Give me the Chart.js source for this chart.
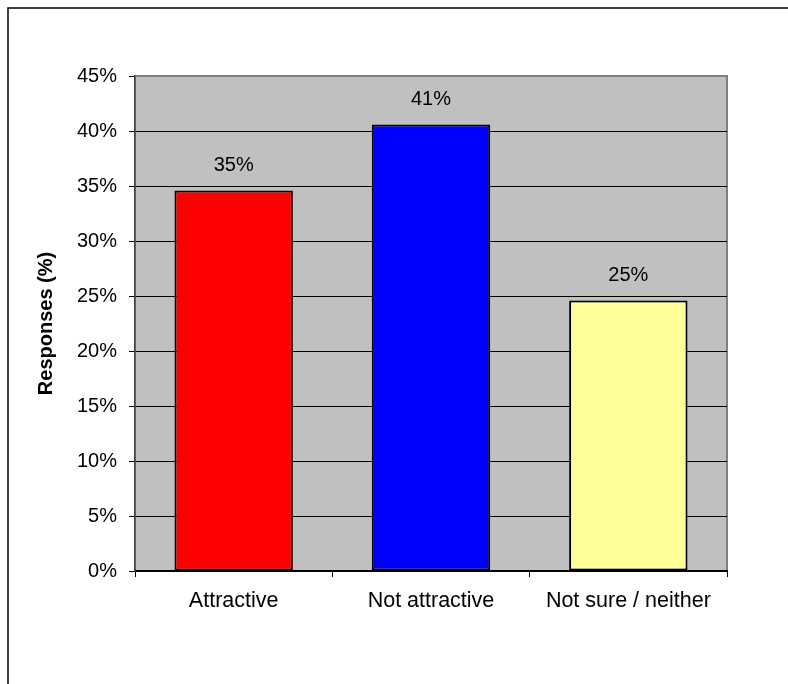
<!DOCTYPE html>
<html>
<head>
<meta charset="utf-8">
<script src="https://cdn.jsdelivr.net/npm/chart.js@4/dist/chart.umd.min.js"></script>
<style>
    html, body {
        margin: 0;
        padding: 0;
        background: #ffffff;
    }

    #wrap {
        width: 788px;
        height: 684px;
    }
</style>
</head>
<body>

<div id="wrap">
    <canvas id="responseChart" width="788" height="684"></canvas>
</div>

<script>

const categories = [
    "Attractive",
    "Not attractive",
    "Not sure / neither"
];

const responses = [34.6, 40.6, 24.6];

const barColors = [
    "#ff0000",
    "#0000ff",
    "#ffff99"
];

const yTicks = [0, 5, 10, 15, 20, 25, 30, 35, 40, 45];

const FONT = "'Liberation Sans', Arial, sans-serif";

// grey plot background, its frame and the outer box line
const plotBackground = {

    id: "plotBackground",

    beforeDraw(chart) {

        const ctx = chart.ctx;
        const area = chart.chartArea;

        ctx.save();

        ctx.strokeStyle = "#000000";
        ctx.lineWidth = 1.5;
        ctx.strokeRect(8, 8, 820, 720);

        ctx.fillStyle = "#c0c0c0";
        ctx.fillRect(
            area.left,
            area.top,
            area.right - area.left,
            area.bottom - area.top
        );

        ctx.strokeStyle = "#808080";
        ctx.lineWidth = 2;
        ctx.strokeRect(
            area.left,
            area.top,
            area.right - area.left,
            area.bottom - area.top
        );

        ctx.restore();

    }

};

// percentage written above each bar
const barLabels = {

    id: "barLabels",

    afterDatasetsDraw(chart) {

        const ctx = chart.ctx;
        const meta = chart.getDatasetMeta(0);

        ctx.save();
        ctx.font = "20px " + FONT;
        ctx.fillStyle = "#000000";
        ctx.textAlign = "center";
        ctx.textBaseline = "alphabetic";

        meta.data.forEach((bar, i) => {

            ctx.fillText(
                Math.round(responses[i]) + "%",
                bar.x,
                bar.y - 19
            );

        });

        ctx.restore();

    }

};

new Chart(document.getElementById("responseChart"), {

    type: "bar",

    data: {

        labels: categories,

        datasets: [{

            data: responses,
            backgroundColor: barColors,
            borderColor: "#000000",
            borderWidth: 2,
            borderSkipped: false,
            barPercentage: 0.6,
            categoryPercentage: 1

        }]

    },

    options: {

        responsive: false,
        animation: false,
        devicePixelRatio: 1,

        layout: {
            padding: {
                top: 76,
                right: 61,
                bottom: 0,
                left: 0
            }
        },

        plugins: {
            legend: { display: false },
            tooltip: { enabled: false }
        },

        scales: {

            x: {

                afterFit(scale) {
                    scale.height = 113;
                },

                grid: {
                    offset: true,
                    drawOnChartArea: false,
                    color: "#000000",
                    tickLength: 6
                },

                border: {
                    color: "#000000",
                    width: 1.5
                },

                ticks: {
                    color: "#000000",
                    padding: 11,
                    maxRotation: 0,
                    font: {
                        family: FONT,
                        size: 21.5
                    }
                },

            },

            y: {

                min: 0,
                max: 45,

                afterFit(scale) {
                    scale.width = 135;
                },

                afterBuildTicks(scale) {
                    scale.ticks = yTicks.map(v => ({ value: v }));
                },

                grid: {
                    color: ctx =>
                        ctx.tick && ctx.tick.value === 45 ? "rgba(0,0,0,0)" : "#000000",
                    tickColor: "#000000",
                    lineWidth: 1,
                    tickLength: 6
                },

                border: {
                    color: "#404040",
                    width: 1.5
                },

                ticks: {
                    color: "#000000",
                    padding: 12,
                    callback: value => value + "%",
                    font: {
                        family: FONT,
                        size: 20
                    }
                },

                title: {
                    display: true,
                    text: "Responses (%)",
                    color: "#000000",
                    padding: { top: 34, bottom: 0 },
                    font: {
                        family: FONT,
                        size: 20,
                        weight: "bold"
                    }
                }

            }

        }

    },

    plugins: [plotBackground, barLabels]

});

</script>

</body>
</html>
